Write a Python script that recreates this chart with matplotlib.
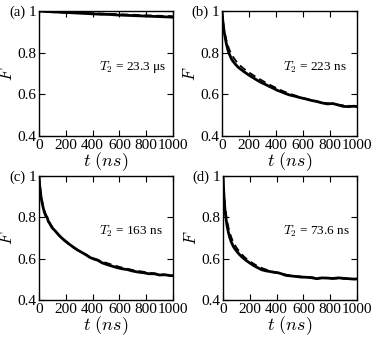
import numpy as np
import matplotlib
matplotlib.use('Agg')
import matplotlib.pyplot as plt

plt.rcParams['font.family'] = 'Liberation Serif'
plt.rcParams['mathtext.fontset'] = 'cm'

# time axis (ns) for the measured curves
t_data = [0, 5, 10, 15, 20, 30, 40, 50, 60, 70, 80, 90, 100, 120, 140, 160, 180, 200,
          230, 260, 290, 320, 350, 380, 410, 440, 470, 500, 540, 580, 620, 660, 700,
          740, 780, 820, 860, 900, 940, 980, 1000]
# time axis (ns) for the fitted curves
t_fit = [0, 5, 10, 15, 20, 30, 40, 50, 60, 70, 80, 90, 100, 120, 140, 160, 180, 200,
         250, 300, 350, 400, 450, 500, 600, 700, 800, 900, 1000]

# (a) T2 = 23.3 us
a_data = [1.0, 1.0, 0.999, 0.999, 0.999, 0.999, 0.998, 0.998, 0.997, 0.997, 0.997, 0.996,
          0.996, 0.995, 0.995, 0.994, 0.993, 0.993, 0.992, 0.991, 0.990, 0.989, 0.988,
          0.987, 0.986, 0.985, 0.984, 0.984, 0.983, 0.981, 0.980, 0.979, 0.978, 0.977,
          0.976, 0.975, 0.974, 0.973, 0.972, 0.971, 0.970]
a_fit = [1.0, 1.0, 1.0, 0.999, 0.999, 0.999, 0.999, 0.998, 0.998, 0.998, 0.997, 0.997,
         0.997, 0.996, 0.996, 0.995, 0.995, 0.994, 0.993, 0.992, 0.990, 0.989, 0.988,
         0.987, 0.984, 0.982, 0.979, 0.977, 0.975]

# (b) T2 = 223 ns
b_data = [1.0, 0.96, 0.93, 0.905, 0.885, 0.85, 0.822, 0.8, 0.785, 0.77, 0.76, 0.752,
          0.744, 0.73, 0.72, 0.71, 0.701, 0.692, 0.68, 0.668, 0.657, 0.648, 0.638,
          0.629, 0.619, 0.612, 0.604, 0.597, 0.591, 0.584, 0.578, 0.571, 0.566, 0.559,
          0.554, 0.556, 0.549, 0.542, 0.541, 0.543, 0.541]
b_fit = [1.0, 0.966, 0.94, 0.917, 0.898, 0.867, 0.842, 0.822, 0.806, 0.793, 0.782, 0.772,
         0.763, 0.748, 0.735, 0.724, 0.714, 0.705, 0.684, 0.665, 0.647, 0.631, 0.616,
         0.603, 0.582, 0.566, 0.555, 0.547, 0.542]

# (c) T2 = 163 ns
c_data = [1.0, 0.955, 0.925, 0.9, 0.88, 0.85, 0.825, 0.808, 0.8, 0.78, 0.77, 0.758,
          0.748, 0.735, 0.72, 0.706, 0.694, 0.684, 0.668, 0.654, 0.641, 0.63, 0.619,
          0.606, 0.598, 0.592, 0.58, 0.573, 0.565, 0.557, 0.551, 0.547, 0.54, 0.535,
          0.532, 0.527, 0.527, 0.521, 0.522, 0.518, 0.518]
c_fit = [1.0, 0.965, 0.935, 0.91, 0.89, 0.858, 0.834, 0.815, 0.8, 0.786, 0.774, 0.763,
         0.753, 0.735, 0.719, 0.705, 0.692, 0.681, 0.657, 0.637, 0.619, 0.604, 0.591,
         0.58, 0.56, 0.545, 0.534, 0.525, 0.518]

# (d) T2 = 73.6 ns
d_data = [1.0, 0.93, 0.875, 0.835, 0.805, 0.76, 0.728, 0.703, 0.684, 0.669, 0.656, 0.646,
          0.638, 0.622, 0.609, 0.598, 0.588, 0.579, 0.566, 0.556, 0.546, 0.541, 0.538,
          0.534, 0.532, 0.526, 0.519, 0.517, 0.514, 0.511, 0.51, 0.508, 0.503, 0.507,
          0.506, 0.504, 0.507, 0.505, 0.503, 0.501, 0.502]
d_fit = [1.0, 0.942, 0.897, 0.86, 0.831, 0.786, 0.753, 0.727, 0.707, 0.69, 0.676, 0.664,
         0.654, 0.636, 0.621, 0.608, 0.597, 0.587, 0.567, 0.552, 0.541, 0.532, 0.525,
         0.519, 0.512, 0.508, 0.505, 0.503, 0.502]

labels = ['(a)', '(b)', '(c)', '(d)']
t2_texts = [r'$T_2$ = 23.3 μs', r'$T_2$ = 223 ns', r'$T_2$ = 163 ns', r'$T_2$ = 73.6 ns']
data_sets = [a_data, b_data, c_data, d_data]
fit_sets = [a_fit, b_fit, c_fit, d_fit]

fig = plt.figure(figsize=(3.82, 3.41), dpi=100)
W, H = 382, 341
# axes boxes in pixels: left, top, right, bottom
boxes = [(39, 11, 173, 136), (222, 11, 357, 136), (39, 176, 173, 300), (223, 176, 357, 300)]

for i in range(4):
    l, tp, r, b = boxes[i]
    ax = fig.add_axes([l / W, 1 - b / H, (r - l) / W, (b - tp) / H])
    ax.plot(t_fit, fit_sets[i], color='black', lw=1.3, ls=(0, (4, 2.5)))
    ax.plot(t_data, data_sets[i], color='black', lw=2.0)
    ax.set_xlim(0, 1000)
    ax.set_ylim(0.4, 1.0)
    ax.set_xticks([0, 200, 400, 600, 800, 1000])
    ax.set_yticks([0.4, 0.6, 0.8, 1.0])
    ax.set_yticklabels(['0.4', '0.6', '0.8', '1'])
    ax.tick_params(direction='in', top=True, right=True, length=4, width=0.8,
                   labelsize=11, pad=2)
    for s in ax.spines.values():
        s.set_linewidth(1.0)
    ax.set_xlabel(r'$t\ (ns)$', fontsize=13, labelpad=-1)
    ax.set_ylabel(r'$F$', fontsize=12, labelpad=1)
    ax.text(450, 0.73, t2_texts[i], fontsize=9.5, va='center')
    fig.text((l - 14) / W, 1 - (tp + 1) / H, labels[i], fontsize=10.5, ha='right', va='center')

fig.savefig('out.png', dpi=100)
